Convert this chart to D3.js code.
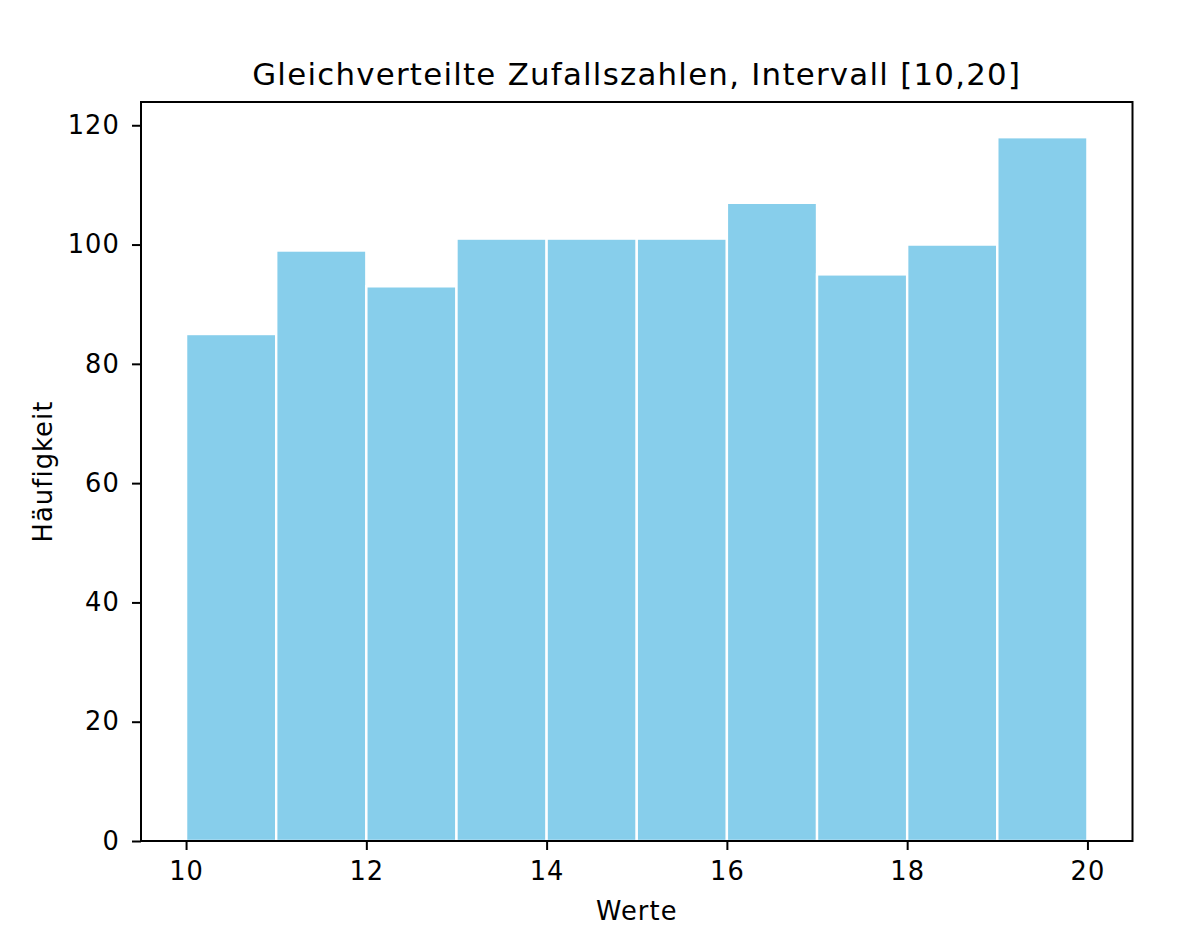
<!DOCTYPE html>
<html>
<head>
<meta charset="utf-8">
<script src="https://cdn.jsdelivr.net/npm/d3@7"></script>
<style>
  html, body { margin: 0; padding: 0; background: #fff; }
  svg { display: block; font-family: "DejaVu Sans", sans-serif; }
  text { letter-spacing: 1.1px; }
</style>
</head>
<body>
<svg id="chart" width="1185" height="948"></svg>
<script>
const binEdges = [10, 11, 12, 13, 14, 15, 16, 17, 18, 19, 20];
const counts = [85, 99, 93, 101, 101, 101, 107, 95, 100, 118];
const xTicks = [10, 12, 14, 16, 18, 20];
const yTicks = [0, 20, 40, 60, 80, 100, 120];
const title = "Gleichverteilte Zufallszahlen, Intervall [10,20]";
const xLabel = "Werte";
const yLabel = "Häufigkeit";

const W = 1185, H = 948;
const m = { left: 141, right: 1132.5, top: 102, bottom: 841 };
const svg = d3.select("#chart");

const x = d3.scaleLinear().domain([9.5, 20.5]).range([m.left, m.right]);
const y = d3.scaleLinear().domain([0, 118 * 1.05]).range([m.bottom, m.top]);

const bins = counts.map((c, i) => ({ x0: binEdges[i], x1: binEdges[i + 1], c }));

svg.append("g").selectAll("rect").data(bins).join("rect")
  .attr("x", d => x(d.x0))
  .attr("width", d => x(d.x1) - x(d.x0))
  .attr("y", d => y(d.c))
  .attr("height", d => y(0) - y(d.c))
  .attr("fill", "#87CEEB")
  .attr("stroke", "#ffffff")
  .attr("stroke-width", 2.4);

const fs = 25.7;
const tickLen = 9;

const xAxis = d3.axisBottom(x).tickValues(xTicks).tickFormat(d3.format("d"))
  .tickSizeInner(tickLen).tickSizeOuter(0).tickPadding(12);
const gx = svg.append("g").attr("transform", `translate(0,${m.bottom})`).call(xAxis);
gx.select(".domain").remove();
gx.selectAll(".tick line").attr("stroke", "#000").attr("stroke-width", 2);
gx.selectAll(".tick text").attr("fill", "#000").style("font-size", fs + "px")
  .attr("font-family", "DejaVu Sans");

const yAxis = d3.axisLeft(y).tickValues(yTicks).tickFormat(d3.format("d"))
  .tickSizeInner(tickLen).tickSizeOuter(0).tickPadding(12);
const gy = svg.append("g").attr("transform", `translate(${m.left},0)`).call(yAxis);
gy.select(".domain").remove();
gy.selectAll(".tick line").attr("stroke", "#000").attr("stroke-width", 2);
gy.selectAll(".tick text").attr("fill", "#000").style("font-size", fs + "px")
  .attr("font-family", "DejaVu Sans");

// frame (spines)
svg.append("rect")
  .attr("x", m.left).attr("y", m.top)
  .attr("width", m.right - m.left).attr("height", m.bottom - m.top)
  .attr("fill", "none").attr("stroke", "#000").attr("stroke-width", 2);

svg.append("text")
  .attr("x", (m.left + m.right) / 2).attr("y", 85)
  .attr("text-anchor", "middle")
  .style("font-size", (fs * 1.2) + "px")
  .style("letter-spacing", "1.25px")
  .attr("fill", "#000")
  .text(title);

svg.append("text")
  .attr("x", (m.left + m.right) / 2).attr("y", 919.5)
  .attr("text-anchor", "middle")
  .style("font-size", fs + "px")
  .attr("fill", "#000")
  .text(xLabel);

svg.append("text")
  .attr("transform", `translate(52,${(m.top + m.bottom) / 2}) rotate(-90)`)
  .attr("text-anchor", "middle")
  .style("font-size", fs + "px")
  .attr("fill", "#000")
  .text(yLabel);
</script>
</body>
</html>
